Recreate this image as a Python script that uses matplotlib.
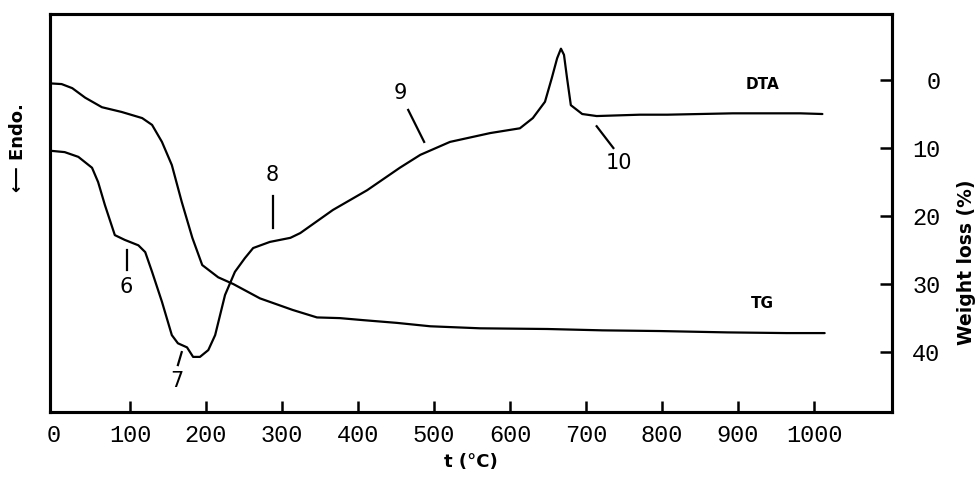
import matplotlib
matplotlib.use("Agg")
import matplotlib.pyplot as plt

# ---- data ----
tg_temp = [-5, 10, 24, 41, 63, 89, 116, 129, 142, 155, 168, 182, 195, 216, 236, 251, 271, 314,
           346, 376, 407, 451, 495, 561, 649, 722, 797, 886, 964, 1014]
tg_loss = [0.5, 0.6, 1.2, 2.6, 4.0, 4.7, 5.6, 6.6, 9.1, 12.5, 17.9, 23.2, 27.2, 29.0, 30.0, 30.9, 32.1, 33.8,
           34.9, 35.0, 35.3, 35.7, 36.2, 36.5, 36.6, 36.8, 36.9, 37.1, 37.2, 37.2]

dta_temp = [-5, 14, 32, 50, 58, 67, 80, 93, 111, 120, 129, 142, 155, 163, 175, 183, 192, 203, 212,
            225, 238, 251, 262, 284, 311, 324, 367, 412, 455, 482, 521, 574, 613, 630,
            646, 655, 662, 667, 671, 675, 680, 695, 714, 771, 807, 893, 982, 1011]
dta_sig = [-10.4, -10.6, -11.3, -12.9, -15.0, -18.4, -22.8, -23.5, -24.3, -25.3, -28.2, -32.6, -37.5, -38.7, -39.3, -40.7, -40.7, -39.7, -37.5,
           -31.6, -28.2, -26.2, -24.7, -23.8, -23.2, -22.5, -19.1, -16.2, -12.9, -11.0, -9.1, -7.8, -7.1, -5.6,
           -3.2, 0.3, 3.2, 4.6, 3.7, 0.3, -3.7, -5.0, -5.3, -5.1, -5.1, -4.9, -4.9, -5.0]

x_ticks = [0, 100, 200, 300, 400, 500, 600, 700, 800, 900, 1000]
wl_ticks = [0, 10, 20, 30, 40]

peak_labels = ["6", "7", "8", "9", "10"]
peak_text_pos = [(95, -30.4), (162, -44.3), (287, -14.0), (455, -1.9), (743, -12.2)]
peak_line = [((96, -25.0), (96, -27.9)),
             ((168, -40.0), (163, -41.9)),
             ((288, -17.1), (288, -21.8)),
             ((466, -4.4), (487, -9.1)),
             ((714, -6.8), (736, -10.0))]

# ---- figure ----
fig = plt.figure(figsize=(9.75, 4.79), dpi=100)
ax = fig.add_axes([50 / 975, 1 - 412 / 479, 842 / 975, 398 / 479])
ax2 = ax.twinx()

xlim = (-5.3, 1102.6)
ax.set_xlim(*xlim)
ax.set_ylim(-48.8, 9.7)          # DTA (arbitrary units, up = exo)
ax2.set_ylim(48.8, -9.7)         # weight loss, inverted

lw = 1.6
ax.plot(dta_temp, dta_sig, color="black", lw=lw, solid_capstyle="round", solid_joinstyle="round")
ax2.plot(tg_temp, tg_loss, color="black", lw=lw, solid_capstyle="round", solid_joinstyle="round")

for a in (ax, ax2):
    for s in a.spines.values():
        s.set_linewidth(2.2)

mono = "Liberation Mono"
ax.set_xticks(x_ticks)
ax.set_xticklabels([str(t) for t in x_ticks], fontfamily=mono, fontsize=17)
ax.tick_params(axis="x", direction="in", length=8, width=1.8, pad=9)
ax.tick_params(axis="y", left=False, labelleft=False)
ax.xaxis.get_major_ticks()[0].tick1line.set_visible(False)
ax2.set_xlim(*xlim)

ax2.set_yticks(wl_ticks)
ax2.set_yticklabels([str(t) for t in wl_ticks], fontfamily=mono, fontsize=17)
ax2.tick_params(axis="y", direction="in", length=9, width=1.8, pad=35)
for lab in ax2.get_yticklabels():
    lab.set_horizontalalignment("right")

ax.set_xlabel("t (°C)", fontsize=13, fontweight="bold", labelpad=4)

fig.text(966 / 975, 1 - 262 / 479, "Weight loss (%)", rotation=90, ha="center", va="center",
         fontsize=13.5, fontweight="bold")
fig.text(18 / 975, 1 - 148 / 479, "⟵ Endo.", rotation=90, ha="center", va="center",
         fontsize=13, fontweight="bold", family=["DejaVu Sans"])

ax.text(932, -0.7, "DTA", ha="center", va="center", fontsize=11, fontweight="bold")
ax.text(932, -32.8, "TG", ha="center", va="center", fontsize=11, fontweight="bold")

for lab, (tx, ty), ((x0, y0), (x1, y1)) in zip(peak_labels, peak_text_pos, peak_line):
    ax.text(tx, ty, lab, ha="center", va="center", fontsize=15, fontfamily="DejaVu Sans")
    ax.plot([x0, x1], [y0, y1], color="black", lw=1.6)

fig.savefig("out.png", dpi=100)
